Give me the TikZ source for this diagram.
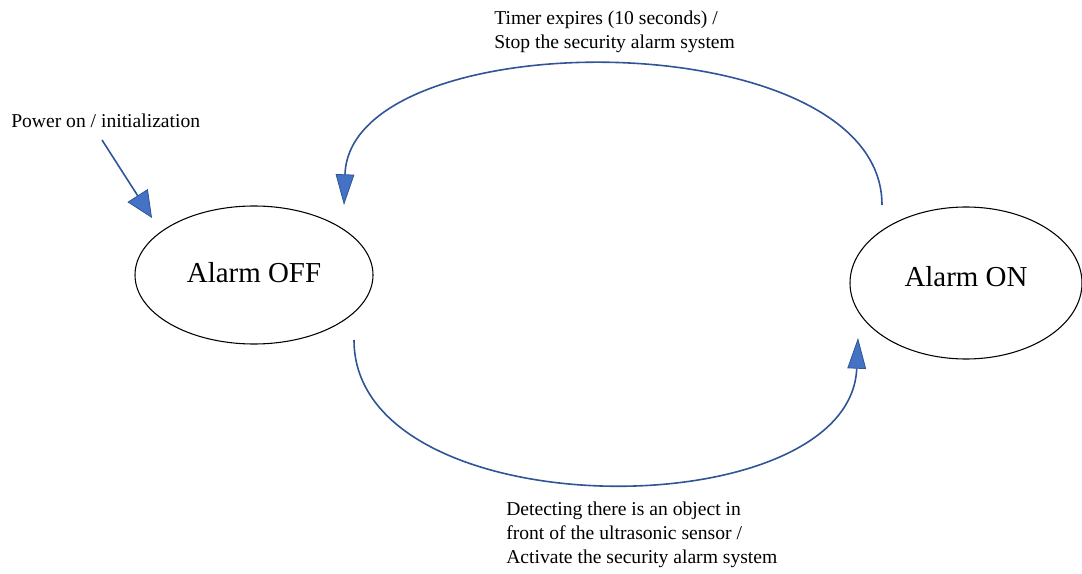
\documentclass[tikz,border=0pt]{standalone}
\usepackage{fontspec}
\setmainfont{Liberation Serif}
\usetikzlibrary{arrows.meta, shapes.geometric}

\definecolor{lineblue}{RGB}{47,85,151}
\definecolor{tipblue}{RGB}{68,114,196}

\tikzset{
  state/.style={draw, ellipse, thick, inner sep=0pt, font=\fontsize{21.7}{26}\selectfont},
  trans/.style={draw=lineblue, line width=1.2pt,
    -{Triangle[length=23pt, width=14pt, fill=tipblue, color=lineblue, line width=0.6pt]}},
  lbl/.style={inner sep=0pt, align=left, font=\fontsize{14.7}{18}\selectfont}
}

\begin{document}
\begin{tikzpicture}[x=0.75pt, y=-0.75pt]
  \useasboundingbox (0,0) rectangle (1082,574);

  % states
  \node[state, minimum width=178.5pt, minimum height=103.5pt, text depth=4.5pt] (off) at (254,275) {Alarm OFF};
  \node[state, minimum width=174pt, minimum height=114pt, text depth=10pt] (on) at (966,283) {Alarm ON};

  % transition ends
  \coordinate (init) at (102,140);
  \coordinate (initend) at (152,218);
  \coordinate (onout) at (882,205);
  \coordinate (offin) at (344,205);
  \coordinate (offout) at (354,340);
  \coordinate (onin) at (858,338);

  % transitions
  \draw[draw=lineblue, line width=1.2pt,
    -{Triangle[length=20pt, width=18pt, fill=tipblue, color=lineblue, line width=0.6pt]}] (init) -- (initend);
  \draw[trans] (onout) .. controls (882,20) and (350,20) .. (offin);
  \draw[trans] (offout) .. controls (354,530) and (850,530) .. (onin);

  % labels
  \node[lbl, anchor=base west] (initlbl) at (11,128) {Power on / initialization};
  \node[lbl, anchor=north west] (toplbl) at (494,11) {Timer expires (10 seconds) /\\Stop the security alarm system};
  \node[lbl, anchor=north west] (botlbl) at (506,502) {Detecting there is an object in\\front of the ultrasonic sensor /\\Activate the security alarm system};
\end{tikzpicture}
\end{document}
